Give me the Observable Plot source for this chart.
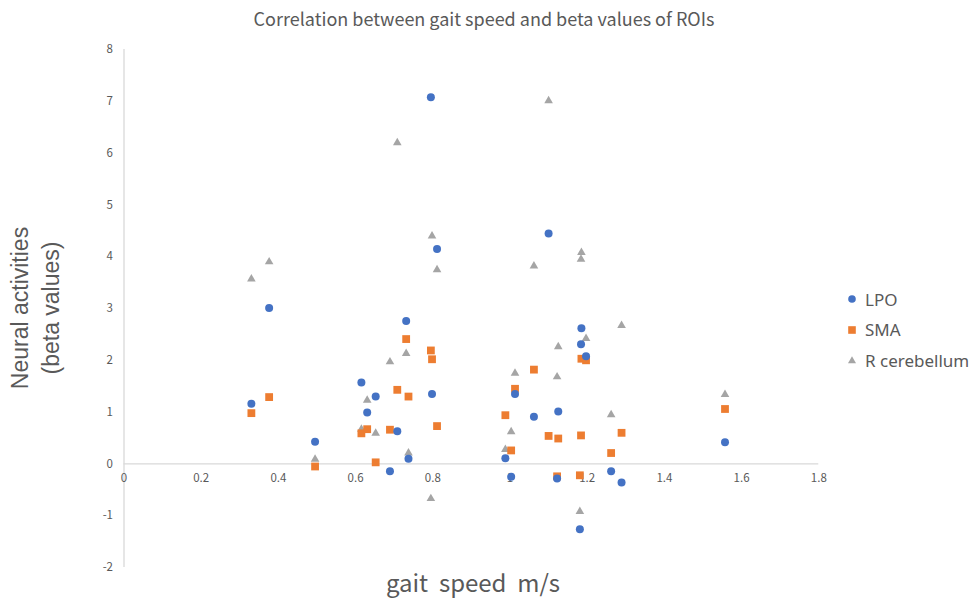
<!DOCTYPE html>
<html>
<head>
<meta charset="utf-8">
<script src="https://cdn.jsdelivr.net/npm/d3@7"></script>
<script src="https://cdn.jsdelivr.net/npm/@observablehq/plot@0.6"></script>
<style>
  body { margin: 0; background: #fff; }
  #wrap { position: relative; width: 980px; height: 600px; color: #595959; overflow: hidden; }
  #wrap > svg { position: absolute; left: 0; top: 0; }
  .title { position: absolute; left: 0; width: 968px; top: 5px; text-align: center;
           font-family: "Noto Sans CJK JP", sans-serif; font-size: 18px; color: #595959; }
  .xtitle { position: absolute; left: 0; width: 946px; top: 568px; text-align: center; white-space: pre;
            font-family: "Noto Sans CJK JP", sans-serif; font-size: 24px; line-height: 28px; color: #595959; }
  .ytitle { position: absolute; left: 36px; top: 308px; width: 300px; margin-left: -150px;
            text-align: center; transform: translate(0, -50%) rotate(-90deg); transform-origin: 50% 50%;
            font-family: "Liberation Sans", sans-serif; font-size: 23px; line-height: 31px; color: #595959; }
  .legend { position: absolute; left: 846px; top: 284px; font-family: "Noto Sans", sans-serif;
            font-size: 17px; color: #595959; }
  .legend div { display: flex; align-items: center; height: 30.5px; }
  .legend svg { margin-right: 7px; }
</style>
</head>
<body>
<div id="wrap">
  <div class="title">Correlation between gait speed and beta values of ROIs</div>
  <div class="ytitle">Neural activities<br>(beta values)</div>
  <div class="xtitle">gait  speed  m/s</div>
</div>
<script>
// gait speed (m/s) of each subject
const speed = [0.330, 0.376, 0.495, 0.615, 0.630, 0.652, 0.689, 0.708, 0.731, 0.737,
               0.795, 0.798, 0.811, 0.988, 1.003, 1.013, 1.062, 1.100, 1.125, 1.122,
               1.181, 1.185, 1.184, 1.197, 1.262, 1.289, 1.557];
// beta values per ROI
const lpo = [1.16, 3.01, 0.43, 1.57, 0.99, 1.30, -0.14, 0.63, 2.76, 0.10,
             7.08, 1.35, 4.15, 0.11, -0.25, 1.35, 0.91, 4.45, 1.01, -0.28,
             -1.26, 2.62, 2.31, 2.08, -0.14, -0.36, 0.42];
const sma = [0.98, 1.29, -0.05, 0.59, 0.67, 0.03, 0.66, 1.43, 2.41, 1.30,
             2.19, 2.02, 0.73, 0.94, 0.26, 1.45, 1.82, 0.54, 0.49, -0.24,
             -0.22, 2.03, 0.55, 2.00, 0.21, 0.60, 1.06];
const rcb = [3.57, 3.90, 0.09, 0.67, 1.23, 0.59, 1.97, 6.20, 2.13, 0.21,
             -0.67, 4.40, 3.75, 0.28, 0.62, 1.75, 3.82, 7.01, 2.26, 1.68,
             -0.92, 4.08, 3.95, 2.42, 0.95, 2.67, 1.34];
const seriesNames = ["LPO", "SMA", "R cerebellum"];
const seriesColors = ["#4472C4", "#ED7D31", "#A5A5A5"];
const xTicks = [0, 0.2, 0.4, 0.6, 0.8, 1, 1.2, 1.4, 1.6, 1.8];
const yTicks = [-2, -1, 0, 1, 2, 3, 4, 5, 6, 7, 8];

const rows = (vals) => speed.map((s, i) => ({speed: s, beta: vals[i]}));

const chart = Plot.plot({
  width: 980,
  height: 600,
  marginLeft: 123.5,
  marginRight: 161.7,
  marginTop: 49,
  marginBottom: 33,
  x: {domain: [0, 1.8], axis: null},
  y: {domain: [-2, 8], axis: null},
  style: {fontFamily: "'Noto Sans CJK JP', sans-serif", fontSize: "11.5px", color: "#595959", background: "transparent"},
  marks: [
    Plot.ruleX([0], {stroke: "#d9d9d9", strokeWidth: 1.3}),
    Plot.ruleY([0], {stroke: "#d9d9d9", strokeWidth: 1.3}),
    Plot.axisY({ticks: yTicks, tickSize: 0, tickPadding: 11, label: null, fill: "#595959", tickFormat: d => String(d)}),
    Plot.text(xTicks, {x: d => d, y: () => 0, text: d => String(d), dy: 14, fill: "#595959"}),
    Plot.dot(rows(rcb), {x: "speed", y: "beta", symbol: "triangle", r: 3.2, fill: seriesColors[2], stroke: "none"}),
    Plot.dot(rows(sma), {x: "speed", y: "beta", symbol: "square", r: 4.4, fill: seriesColors[1], stroke: "none"}),
    Plot.dot(rows(lpo), {x: "speed", y: "beta", symbol: "circle", r: 4.0, fill: seriesColors[0], stroke: "none"})
  ]
});
const wrap = document.getElementById("wrap");
wrap.insertBefore(chart, wrap.firstChild);

// legend
const leg = document.createElement("div");
leg.className = "legend";
const shapes = [
  '<circle cx="6" cy="6" r="3.8"/>',
  '<rect x="2.2" y="2.2" width="7.6" height="7.6"/>',
  '<path d="M6,2.2 L10,9.2 L2,9.2 Z"/>'
];
seriesNames.forEach((name, i) => {
  const row = document.createElement("div");
  row.innerHTML = `<svg width="12" height="12" fill="${seriesColors[i]}">${shapes[i]}</svg><span>${name}</span>`;
  leg.appendChild(row);
});
wrap.appendChild(leg);
</script>
</body>
</html>
